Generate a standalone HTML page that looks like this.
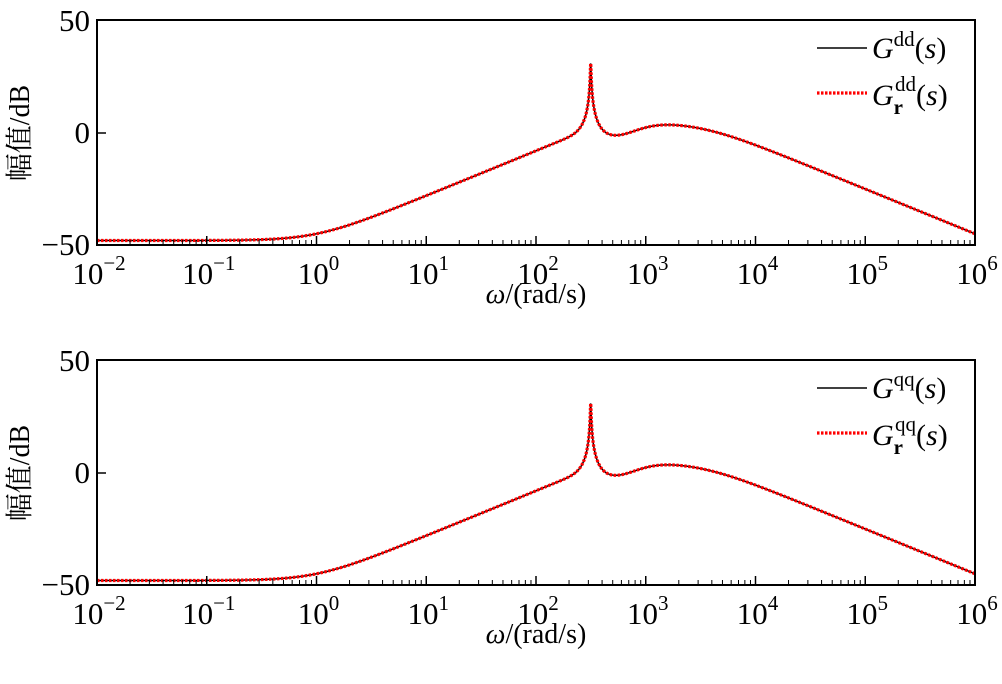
<!DOCTYPE html>
<html><head><meta charset="utf-8"><style>
html,body{margin:0;padding:0;background:#fff;}
svg text{font-family:"Liberation Serif","Noto Serif CJK SC",serif;fill:#000;}
</style></head><body>
<svg id="s" width="1002" height="679" xmlns="http://www.w3.org/2000/svg"></svg>
<script>
const svg=document.getElementById('s');
const NS='http://www.w3.org/2000/svg';
function el(t,a,p){const e=document.createElementNS(NS,t);for(const k in a)e.setAttribute(k,a[k]);(p||svg).appendChild(e);return e;}
const X0=97,X1=975;
function xs(L){return X0+(L+2)*(X1-X0)/8;}
function cabs(re,im){return Math.sqrt(re*re+im*im);}
function mag(w){
 let db=-48+10*Math.log10(1+w*w);
 const wc=1189,x=w/wc;
 db-=20*Math.log10(cabs(1-x*x,3*x));
 const wr=315,y=w/wr;
 db+=20*Math.log10(cabs(1-y*y,2*0.38*y))-20*Math.log10(cabs(1-y*y,2*0.007*y));
 const L=Math.log10(w);
 db-=5.5*Math.exp(-Math.pow((L-2.68)/0.3,2));
 return db;
}
function panel(off,sup){
 const ys=v=>133+off-2.24*v;
 const top=20+off,bot=245+off;
 let d='';
 for(let i=0;i<=4000;i++){const L=-2+8*i/4000;let v=mag(Math.pow(10,L));d+=(i?'L':'M')+xs(L).toFixed(2)+','+ys(v).toFixed(2);}
 const g=el('g',{});
 el('path',{d:d,fill:'none',stroke:'#000','stroke-width':1.5},g);
 el('path',{d:d,fill:'none',stroke:'#f00','stroke-width':3.2,'stroke-dasharray':'2.5,1.5'},g);
 el('rect',{x:X0,y:top,width:X1-X0,height:bot-top,fill:'none',stroke:'#000','stroke-width':2});
 for(let k=-2;k<=6;k++){
  const x=xs(k);
  el('line',{x1:x,y1:bot,x2:x,y2:bot-9,stroke:'#000','stroke-width':1.5});
  if(k<6)for(let m=2;m<=9;m++){const xm=xs(k+Math.log10(m));el('line',{x1:xm,y1:bot,x2:xm,y2:bot-5,stroke:'#000','stroke-width':1});}
  const t=el('text',{x:x+2,y:bot+39,'font-size':31,'text-anchor':'middle'});
  t.textContent='10';
  const s=el('tspan',{dy:-14,'font-size':21},t);s.textContent=(k<0?'−':'')+Math.abs(k);
 }
 el('line',{x1:X0,y1:ys(0),x2:X0+9,y2:ys(0),stroke:'#000','stroke-width':1.5});
 [[50,'50'],[0,'0'],[-50,'−50']].forEach(([v,l])=>{const t=el('text',{x:90,y:ys(v)+10,'font-size':31,'text-anchor':'end'});t.textContent=l;});
 const yl=el('text',{transform:`translate(29,${133+off}) rotate(-90)`,'font-size':28,'text-anchor':'middle'});yl.textContent='幅值/dB';
 const xl=el('text',{x:536,y:bot+58,'font-size':28,'text-anchor':'middle'});
 const w1=el('tspan',{'font-style':'italic'},xl);w1.textContent='ω';
 const w2=el('tspan',{},xl);w2.textContent='/(rad/s)';
 el('line',{x1:817,y1:48+off,x2:867,y2:48+off,stroke:'#000','stroke-width':1.5});
 el('line',{x1:817,y1:93+off,x2:867,y2:93+off,stroke:'#f00','stroke-width':3.2,'stroke-dasharray':'2.5,1.5'});
 const t1=el('text',{x:872,y:58+off,'font-size':30});
 let a=el('tspan',{'font-style':'italic'},t1);a.textContent='G';
 a=el('tspan',{dy:-12,'font-size':21},t1);a.textContent=sup;
 a=el('tspan',{dy:12},t1);a.textContent='(';
 a=el('tspan',{'font-style':'italic'},t1);a.textContent='s';
 a=el('tspan',{},t1);a.textContent=')';
 const t2=el('text',{x:872,y:105+off,'font-size':30});
 a=el('tspan',{'font-style':'italic'},t2);a.textContent='G';
 a=el('tspan',{dy:9,'font-size':21,'font-weight':'bold'},t2);a.textContent='r';
 a=el('tspan',{dx:-8,dy:-23,'font-size':21},t2);a.textContent=sup;
 a=el('tspan',{dy:14},t2);a.textContent='(';
 a=el('tspan',{'font-style':'italic'},t2);a.textContent='s';
 a=el('tspan',{},t2);a.textContent=')';
}
panel(0,'dd');
panel(340,'qq');
</script>
</body></html>
